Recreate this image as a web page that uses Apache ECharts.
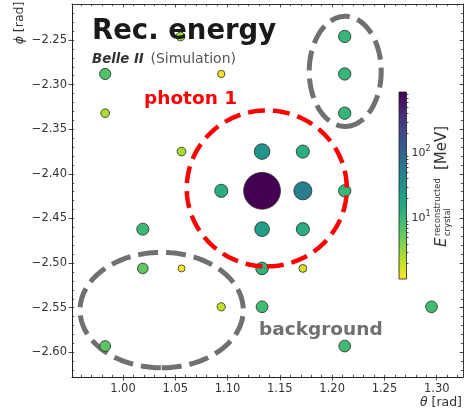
<!DOCTYPE html>
<html><head><meta charset="utf-8">
<script src="https://cdn.jsdelivr.net/npm/echarts@6/dist/echarts.min.js"></script>
<style>html,body{margin:0;padding:0;background:#fff}#c{width:471px;height:410px}</style>
</head><body><div id="c"></div>
<script>
// ---- data ----
const theta = [0.983, 0.983, 1.055, 1.094, 1.056, 1.094, 1.019, 1.019, 1.056, 1.094, 0.983, 1.133, 1.212, 1.295, 1.212, 1.212, 1.212, 1.133, 1.172, 1.133, 1.172, 1.212, 1.133, 1.172, 1.133, 1.172];
const phi = [-2.288, -2.332, -2.246, -2.288, -2.375, -2.419, -2.462, -2.506, -2.506, -2.549, -2.593, -2.549, -2.593, -2.549, -2.246, -2.288, -2.332, -2.375, -2.375, -2.419, -2.419, -2.419, -2.462, -2.462, -2.506, -2.506];
const energy = [7.3, 2.7, 3.0, 1.3, 2.8, 14, 10, 6, 1.15, 2.2, 6.5, 9, 9, 9, 11, 11, 11, 28, 14, 860, 50, 11, 22, 14, 12, 1.8];

// annotation ellipses (data coords): centre theta, centre phi, half-width, half-height
const bgEllipseTheta = [1.2125, 1.037];
const bgEllipsePhi = [-2.2851, -2.5527];
const bgEllipseRTheta = [0.0344, 0.078];
const bgEllipseRPhi = [0.0617, 0.0647];
const photonEllipseTheta = [1.1375];
const photonEllipsePhi = [-2.4163];
const photonEllipseRTheta = [0.0765];
const photonEllipseRPhi = [0.0874];

// axis ranges and ticks
const xRange = [0.9513, 1.3251];
const yRange = [-2.6277, -2.2096];
const xMajor = [1.00, 1.05, 1.10, 1.15, 1.20, 1.25, 1.30];
const yMajor = [-2.60, -2.55, -2.50, -2.45, -2.40, -2.35, -2.30, -2.25];
const xMinor = [0.96,0.97,0.98,0.99,1.00,1.01,1.02,1.03,1.04,1.05,1.06,1.07,1.08,1.09,1.10,1.11,1.12,1.13,1.14,1.15,1.16,1.17,1.18,1.19,1.20,1.21,1.22,1.23,1.24,1.25,1.26,1.27,1.28,1.29,1.30,1.31,1.32];
const yMinor = [-2.62,-2.61,-2.60,-2.59,-2.58,-2.57,-2.56,-2.55,-2.54,-2.53,-2.52,-2.51,-2.50,-2.49,-2.48,-2.47,-2.46,-2.45,-2.44,-2.43,-2.42,-2.41,-2.40,-2.39,-2.38,-2.37,-2.36,-2.35,-2.34,-2.33,-2.32,-2.31,-2.30,-2.29,-2.28,-2.27,-2.26,-2.25,-2.24,-2.23,-2.22,-2.21];
const cbMajor = [10, 100];
const cbMajorLabels = ['10', '10'];
const cbMajorExp = ['1', '2'];
const cbMinor = [2,3,4,5,6,7,8,9,20,30,40,50,60,70,80,90,200,300,400,500,600,700,800];

// ---- build ----
const viridisR = ['#fde725','#bddf26','#7ad151','#44bf70','#22a884','#21918c','#2a788e','#355f8d','#414487','#482475','#440154'];
const eMin = Math.min.apply(null, energy), eMax = Math.max.apply(null, energy);
const lMin = Math.log10(eMin), lMax = Math.log10(eMax);
const FONT = '"DejaVu Sans", sans-serif';

const points = theta.map((t, i) => [t, phi[i], energy[i], Math.log10(energy[i])]);

function ellipseItem(stroke, lw, dash) {
  return function (params, api) {
    const c = api.coord([api.value(0), api.value(1)]);
    const e = api.coord([api.value(0) + api.value(2), api.value(1) + api.value(3)]);
    const rx = Math.abs(e[0] - c[0]), ry = Math.abs(e[1] - c[1]);
    const pts = [];
    const N = 240;
    for (let k = 0; k <= N; k++) {
      const t = -Math.PI / 2 + 2 * Math.PI * k / N;
      pts.push([c[0] + rx * Math.cos(t), c[1] - ry * Math.sin(t)]);
    }
    return { type: 'polyline', shape: { points: pts },
      style: { fill: 'none', stroke: stroke, lineWidth: lw, lineDash: dash, lineCap: 'butt' } };
  };
}

function mkX(pos, ticks, inside, len, showLine, showLabel, lineColor) {
  return { gridIndex: 0, type: 'value', position: pos, min: xRange[0], max: xRange[1],
    axisLine: { show: showLine, onZero: false, lineStyle: { color: lineColor, width: 1 } },
    axisTick: { show: true, inside: inside, length: len, customValues: ticks, lineStyle: { color: lineColor, width: 0.8 } },
    axisLabel: { show: showLabel, customValues: ticks, formatter: v => v.toFixed(2), fontSize: 11.5, color: '#333', fontFamily: FONT, margin: 6 },
    splitLine: { show: false }, axisPointer: { show: false } };
}
function mkY(pos, ticks, inside, len, showLine, showLabel, lineColor) {
  return { gridIndex: 0, type: 'value', position: pos, min: yRange[0], max: yRange[1],
    axisLine: { show: showLine, onZero: false, lineStyle: { color: lineColor, width: 1 } },
    axisTick: { show: true, inside: inside, length: len, customValues: ticks, lineStyle: { color: lineColor, width: 0.8 } },
    axisLabel: { show: showLabel, customValues: ticks, formatter: v => '\u2212' + Math.abs(v).toFixed(2), fontSize: 11.5, color: '#333', fontFamily: FONT, margin: 5 },
    splitLine: { show: false }, axisPointer: { show: false } };
}

const chart = echarts.init(document.getElementById('c'), null, { renderer: 'canvas' });
const option = {
  animation: false,
  backgroundColor: '#fff',
  grid: [
    { left: 72, top: 4, width: 391, height: 373 },
    { left: 399, top: 92, width: 7.5, height: 187 }
  ],
  xAxis: [
    mkX('bottom', xMajor, false, 3.5, true, true, '#222'),
    mkX('bottom', xMinor, true, 2.2, false, false, '#222'),
    mkX('top', xMajor, true, 3.5, true, false, '#333'),
    mkX('top', xMinor, true, 2.2, false, false, '#333'),
    { gridIndex: 1, type: 'value', min: 0, max: 1, show: false }
  ],
  yAxis: [
    mkY('left', yMajor, false, 3.5, true, true, '#222'),
    mkY('left', yMinor, true, 2.2, false, false, '#222'),
    mkY('right', yMajor, true, 3.5, true, false, '#333'),
    mkY('right', yMinor, true, 2.2, false, false, '#333'),
    { gridIndex: 1, type: 'value', position: 'right', min: lMin, max: lMax,
      axisLine: { show: false },
      axisTick: { show: true, inside: false, length: 3.5, customValues: cbMajor.map(Math.log10), lineStyle: { color: '#222', width: 0.8 } },
      axisLabel: { show: true, customValues: cbMajor.map(Math.log10), margin: 5,
        formatter: v => { const i = cbMajor.map(Math.log10).findIndex(x => Math.abs(x - v) < 1e-9); return '{b|' + cbMajorLabels[i] + '}{s|' + cbMajorExp[i] + '}'; },
        rich: { b: { fontSize: 11, color: '#333', fontFamily: FONT }, s: { fontSize: 8, color: '#333', fontFamily: FONT, padding: [0, 0, 7, 0] } } },
      splitLine: { show: false } },
    { gridIndex: 1, type: 'value', position: 'right', min: lMin, max: lMax,
      axisLine: { show: false },
      axisTick: { show: true, inside: false, length: 2, customValues: cbMinor.map(Math.log10), lineStyle: { color: '#222', width: 0.8 } },
      axisLabel: { show: false }, splitLine: { show: false } }
  ],
  visualMap: [{ type: 'continuous', show: false, seriesIndex: 0, dimension: 3, min: lMin, max: lMax, inRange: { color: viridisR } }],
  series: [
    { type: 'scatter', xAxisIndex: 0, yAxisIndex: 0, z: 3, data: points,
      symbolSize: v => 6.8 * Math.pow(v[2], 0.25),
      itemStyle: { borderColor: '#2a2a2a', borderWidth: 0.8, opacity: 1 },
      emphasis: { disabled: true }, silent: true },
    { type: 'custom', xAxisIndex: 0, yAxisIndex: 0, z: 2, silent: true, clip: false,
      data: bgEllipseTheta.map((t, i) => [t, bgEllipsePhi[i], bgEllipseRTheta[i], bgEllipseRPhi[i]]),
      renderItem: ellipseItem('#707070', 5, [20, 8]) },
    { type: 'custom', xAxisIndex: 0, yAxisIndex: 0, z: 4, silent: true, clip: false,
      data: photonEllipseTheta.map((t, i) => [t, photonEllipsePhi[i], photonEllipseRTheta[i], photonEllipseRPhi[i]]),
      renderItem: ellipseItem('#ff0000', 4.5, [17, 8]) },
    { type: 'custom', xAxisIndex: 4, yAxisIndex: 4, silent: true, clip: false, z: 3,
      data: [[0, lMin]],
      renderItem: function (params, api) {
        const p0 = api.coord([0, lMin]), p1 = api.coord([1, lMax]);
        const stops = viridisR.map((c, i) => ({ offset: i / (viridisR.length - 1), color: c }));
        return { type: 'rect', shape: { x: p0[0], y: p1[1], width: p1[0] - p0[0], height: p0[1] - p1[1] },
          style: { fill: new echarts.graphic.LinearGradient(0, 1, 0, 0, stops), stroke: '#222', lineWidth: 0.8 } };
      } }
  ],
  graphic: [
    { type: 'text', x: 92, y: 32, z: 100, style: { text: 'Rec. energy', fontSize: 27.5, fontWeight: 'bold', fontFamily: FONT, fill: '#1a1a1a', align: 'left', verticalAlign: 'middle' } },
    { type: 'text', x: 92, y: 59.5, z: 100, style: { text: '{a|Belle II}  {b|(Simulation)}', align: 'left', verticalAlign: 'middle',
        rich: { a: { fontSize: 13.3, fontWeight: 'bold', fontStyle: 'italic', fontFamily: FONT, fill: '#333' }, b: { fontSize: 14, fontFamily: FONT, fill: '#555' } } } },
    { type: 'text', x: 144, y: 99, z: 100, style: { text: 'photon 1', fontSize: 18.5, fontWeight: 'bold', fontFamily: FONT, fill: '#ff0000', align: 'left', verticalAlign: 'middle' } },
    { type: 'text', x: 259, y: 330, z: 100, style: { text: 'background', fontSize: 18.5, fontWeight: 'bold', fontFamily: FONT, fill: '#707070', align: 'left', verticalAlign: 'middle' } },
    { type: 'text', x: 462, y: 403, z: 100, style: { text: '{i|θ} [rad]', align: 'right', verticalAlign: 'middle',
        rich: { i: { fontSize: 12.5, fontStyle: 'italic', fontFamily: FONT, fill: '#333' } }, fontSize: 12.5, fontFamily: FONT, fill: '#333' } },
    { type: 'text', x: 20, y: 23, rotation: Math.PI / 2, z: 100, style: { text: '{i|ϕ} [rad]', align: 'center', verticalAlign: 'middle',
        rich: { i: { fontSize: 12.5, fontStyle: 'italic', fontFamily: FONT, fill: '#333' } }, fontSize: 12.5, fontFamily: FONT, fill: '#333' } },
    { type: 'group', x: 442, y: 247, rotation: Math.PI / 2, z: 100, children: [
      { type: 'text', x: 0, y: 0, style: { text: 'E', fontSize: 15, fontStyle: 'italic', fontFamily: FONT, fill: '#333', align: 'left', verticalAlign: 'middle' } },
      { type: 'text', x: 11, y: -4.5, style: { text: 'reconstructed', fontSize: 8.3, fontFamily: FONT, fill: '#333', align: 'left', verticalAlign: 'middle' } },
      { type: 'text', x: 11, y: 5.5, style: { text: 'crystal', fontSize: 8.3, fontFamily: FONT, fill: '#333', align: 'left', verticalAlign: 'middle' } },
      { type: 'text', x: 77, y: 0.5, style: { text: '[MeV]', fontSize: 15, fontFamily: FONT, fill: '#333', align: 'left', verticalAlign: 'middle' } }
    ] }
  ]
};
chart.setOption(option);
</script>
</body></html>
